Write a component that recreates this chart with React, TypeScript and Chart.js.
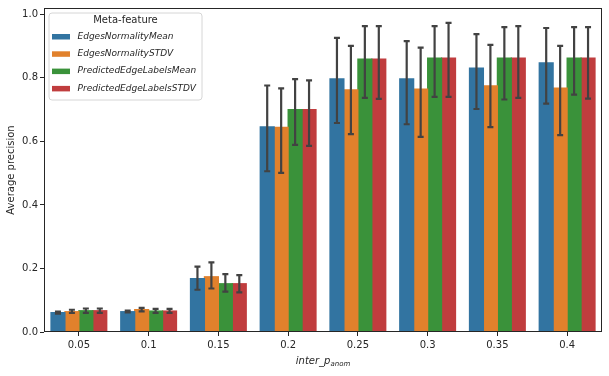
import React, { useEffect, useRef } from 'react';
import { Chart, registerables } from 'chart.js';

Chart.register(...registerables);

const categories = ['0.05', '0.1', '0.15', '0.2', '0.25', '0.3', '0.35', '0.4'];
const seriesNames = ['EdgesNormalityMean', 'EdgesNormalitySTDV', 'PredictedEdgeLabelsMean', 'PredictedEdgeLabelsSTDV'];
const seriesColors = ['#3274a1', '#e1812c', '#3a923a', '#c03d3e'];

const edgesNormalityMean = [0.061, 0.064, 0.168, 0.646, 0.797, 0.797, 0.831, 0.847];
const edgesNormalityMeanLow = [0.058, 0.062, 0.133, 0.506, 0.658, 0.654, 0.702, 0.719];
const edgesNormalityMeanHigh = [0.064, 0.067, 0.206, 0.776, 0.926, 0.916, 0.938, 0.957];

const edgesNormalitySTDV = [0.064, 0.0705, 0.174, 0.644, 0.762, 0.765, 0.775, 0.768];
const edgesNormalitySTDVLow = [0.060, 0.065, 0.137, 0.501, 0.623, 0.614, 0.645, 0.620];
const edgesNormalitySTDVHigh = [0.070, 0.076, 0.219, 0.767, 0.901, 0.895, 0.904, 0.901];

const predictedEdgeLabelsMean = [0.067, 0.066, 0.152, 0.700, 0.859, 0.862, 0.862, 0.862];
const predictedEdgeLabelsMeanLow = [0.060, 0.060, 0.127, 0.589, 0.737, 0.740, 0.732, 0.747];
const predictedEdgeLabelsMeanHigh = [0.074, 0.073, 0.182, 0.796, 0.963, 0.963, 0.960, 0.960];

const predictedEdgeLabelsSTDV = [0.067, 0.066, 0.152, 0.700, 0.859, 0.862, 0.862, 0.862];
const predictedEdgeLabelsSTDVLow = [0.060, 0.060, 0.125, 0.586, 0.734, 0.740, 0.737, 0.735];
const predictedEdgeLabelsSTDVHigh = [0.074, 0.073, 0.179, 0.792, 0.963, 0.973, 0.963, 0.960];

const yTickValues = [0, 0.2, 0.4, 0.6, 0.8, 1.0];

const seriesValues = [edgesNormalityMean, edgesNormalitySTDV, predictedEdgeLabelsMean, predictedEdgeLabelsSTDV];
const seriesLows = [edgesNormalityMeanLow, edgesNormalitySTDVLow, predictedEdgeLabelsMeanLow, predictedEdgeLabelsSTDVLow];
const seriesHighs = [edgesNormalityMeanHigh, edgesNormalitySTDVHigh, predictedEdgeLabelsMeanHigh, predictedEdgeLabelsSTDVHigh];

const FONT = "'DejaVu Sans', sans-serif";
const TEXT = '#262626';

const overlayPlugin = {
  id: 'overlay',
  afterDatasetsDraw(chart: any) {
    const ctx = chart.ctx;
    const yScale = chart.scales.y;
    ctx.save();
    ctx.strokeStyle = '#424242';
    ctx.lineWidth = 2.2;
    ctx.lineCap = 'butt';
    chart.data.datasets.forEach((ds: any, di: number) => {
      const meta = chart.getDatasetMeta(di);
      meta.data.forEach((bar: any, i: number) => {
        const x = bar.x;
        const y1 = yScale.getPixelForValue(seriesLows[di][i]);
        const y2 = yScale.getPixelForValue(seriesHighs[di][i]);
        ctx.beginPath();
        ctx.moveTo(x, y1);
        ctx.lineTo(x, y2);
        ctx.moveTo(x - 3, y1);
        ctx.lineTo(x + 3, y1);
        ctx.moveTo(x - 3, y2);
        ctx.lineTo(x + 3, y2);
        ctx.stroke();
      });
    });
    ctx.restore();
  },
  afterDraw(chart: any) {
    const ctx = chart.ctx;
    const a = chart.chartArea;
    ctx.save();
    // frame
    ctx.strokeStyle = TEXT;
    ctx.lineWidth = 1;
    ctx.strokeRect(Math.round(a.left) + 0.5, Math.round(a.top) + 0.5, Math.round(a.right - a.left) - 1, Math.round(a.bottom - a.top) - 1);

    // y title
    ctx.fillStyle = TEXT;
    ctx.font = `10px ${FONT}`;
    ctx.textAlign = 'center';
    ctx.textBaseline = 'middle';
    ctx.save();
    ctx.translate(11.5, (a.top + a.bottom) / 2);
    ctx.rotate(-Math.PI / 2);
    ctx.fillText('Average precision', 0, 0);
    ctx.restore();

    // x title with subscript
    const main = 'inter_p';
    const sub = 'anom';
    ctx.textAlign = 'left';
    ctx.textBaseline = 'alphabetic';
    ctx.font = `italic 10px ${FONT}`;
    const w1 = ctx.measureText(main).width;
    ctx.font = `italic 7px ${FONT}`;
    const w2 = ctx.measureText(sub).width;
    const cx = (a.left + a.right) / 2;
    const startX = cx - (w1 + w2) / 2;
    const baseY = 364;
    ctx.font = `italic 10px ${FONT}`;
    ctx.fillText(main, startX, baseY);
    ctx.font = `italic 7px ${FONT}`;
    ctx.fillText(sub, startX + w1, baseY + 2);

    // legend
    const lx = a.left + 5;
    const ly = a.top + 5;
    const lw = 153;
    const lh = 87;
    ctx.beginPath();
    const r = 3;
    ctx.moveTo(lx + r, ly);
    ctx.lineTo(lx + lw - r, ly);
    ctx.quadraticCurveTo(lx + lw, ly, lx + lw, ly + r);
    ctx.lineTo(lx + lw, ly + lh - r);
    ctx.quadraticCurveTo(lx + lw, ly + lh, lx + lw - r, ly + lh);
    ctx.lineTo(lx + r, ly + lh);
    ctx.quadraticCurveTo(lx, ly + lh, lx, ly + lh - r);
    ctx.lineTo(lx, ly + r);
    ctx.quadraticCurveTo(lx, ly, lx + r, ly);
    ctx.closePath();
    ctx.fillStyle = 'rgba(255,255,255,0.85)';
    ctx.fill();
    ctx.strokeStyle = '#d6d6d6';
    ctx.lineWidth = 1;
    ctx.stroke();

    ctx.fillStyle = TEXT;
    ctx.font = `10px ${FONT}`;
    ctx.textAlign = 'center';
    ctx.textBaseline = 'middle';
    ctx.fillText('Meta-feature', lx + lw / 2, ly + 7.5);

    chart.data.datasets.forEach((ds: any, i: number) => {
      const rowY = ly + 23.5 + i * 17.3;
      ctx.fillStyle = ds.backgroundColor;
      ctx.fillRect(lx + 3, rowY - 2.5, 18, 5.5);
      ctx.fillStyle = TEXT;
      ctx.font = `italic 9px ${FONT}`;
      ctx.textAlign = 'left';
      ctx.fillText(ds.label, lx + 28.5, rowY);
    });
    ctx.restore();
  },
};

export default function App() {
  const canvasRef = useRef<HTMLCanvasElement | null>(null);

  useEffect(() => {
    if (!canvasRef.current) return;
    const chart = new Chart(canvasRef.current, {
      type: 'bar',
      data: {
        labels: categories,
        datasets: seriesNames.map((name, i) => ({
          label: name,
          data: seriesValues[i],
          backgroundColor: seriesColors[i],
          borderWidth: 0,
          inflateAmount: 0.6,
          categoryPercentage: 0.8,
          barPercentage: 1.0,
        })),
      },
      options: {
        animation: false,
        responsive: false,
        maintainAspectRatio: false,
        layout: { padding: { top: 7, right: 7, left: 0, bottom: 0 } },
        plugins: {
          legend: { display: false },
          tooltip: { enabled: false },
        },
        scales: {
          x: {
            type: 'category',
            grid: {
              display: true,
              drawOnChartArea: false,
              drawTicks: true,
              tickLength: 4,
              offset: false,
              color: TEXT,
            },
            border: { display: false },
            ticks: {
              color: TEXT,
              font: { family: FONT, size: 10 },
              padding: 3,
              maxRotation: 0,
            },
            afterFit: (scale: any) => {
              scale.height = 44;
            },
          },
          y: {
            min: 0,
            max: 1.02,
            grid: {
              display: true,
              drawOnChartArea: false,
              drawTicks: true,
              tickLength: 4,
              color: TEXT,
            },
            border: { display: false },
            afterBuildTicks: (scale: any) => {
              scale.ticks = yTickValues.map((v) => ({ value: v }));
            },
            ticks: {
              color: TEXT,
              font: { family: FONT, size: 10 },
              padding: 2,
              callback: (v: any) => Number(v).toFixed(1),
            },
            afterFit: (scale: any) => {
              scale.width = 44;
            },
          },
        },
      },
      plugins: [overlayPlugin],
    });
    return () => chart.destroy();
  }, []);

  return (
    <div style={{ position: 'absolute', left: 0, top: 0, width: 609, height: 376, background: '#fff' }}>
      <canvas ref={canvasRef} width={609} height={376} style={{ display: 'block' }} />
    </div>
  );
}
